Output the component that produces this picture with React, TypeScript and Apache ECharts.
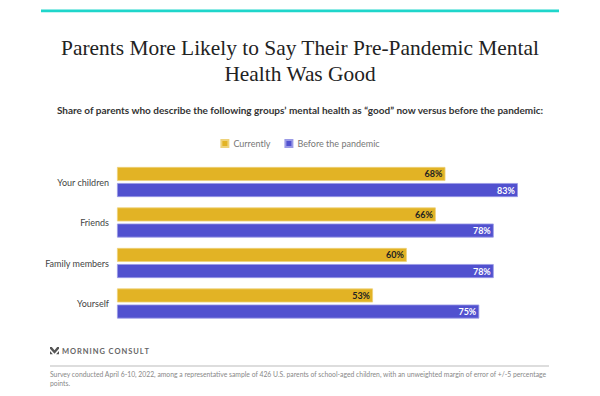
import React, { useEffect, useRef } from "react";
import * as echarts from "echarts";

const categories = ["Your children", "Friends", "Family members", "Yourself"];
const currently = [68, 66, 60, 53];
const beforePandemic = [83, 78, 78, 75];
const seriesNames = ["Currently", "Before the pandemic"];

const titleText = "Parents More Likely to Say Their Pre-Pandemic Mental\nHealth Was Good";
const subtitleText =
  "Share of parents who describe the following groups\u2019 mental health as \u201cgood\u201d now versus before the pandemic:";
const footnote1 =
  "Survey conducted April 6-10, 2022, among a representative sample of 426 U.S. parents of school-aged children, with an unweighted margin of error of +/-5 percentage";
const footnote2 = "points.";
const brand = "MORNING CONSULT";

echarts.graphic.registerShape(
  "mclogo",
  echarts.graphic.extendPath(
    "M0 0 L2 0 L5 3.5 L8 0 L10 0 L10 2 L5 7.5 L0 2 Z M0 4.5 L3.2 8 L0 8 Z M10 4.5 L6.8 8 L10 8 Z",
    {}
  )
);

export default function App() {
  const ref = useRef<HTMLDivElement>(null);
  useEffect(() => {
    if (!ref.current) return;
    const chart = echarts.init(ref.current, undefined, { renderer: "svg" });
    const sans = "Lato, 'Liberation Sans', Arial, sans-serif";
    const spacedBrand = brand.split("").join("\u2009");
    chart.setOption({
      animation: false,
      backgroundColor: "#ffffff",
      title: [
        {
          text: subtitleText,
          left: "center",
          top: 100,
          textStyle: {
            fontFamily: sans,
            fontSize: 10,
            fontWeight: "bold",
            color: "#333333",
          },
        },
      ],
      legend: {
        data: seriesNames,
        top: 134,
        left: "center",
        icon: "rect",
        itemWidth: 7,
        itemHeight: 7,
        itemGap: 14,
        textStyle: { fontFamily: sans, fontSize: 9, color: "#777777" },
      },
      grid: { left: 117, right: 0, top: 161.75, height: 162, containLabel: false },
      xAxis: {
        type: "value",
        min: 0,
        max: 100,
        show: false,
      },
      yAxis: {
        type: "category",
        data: categories,
        inverse: true,
        axisLine: { show: false },
        axisTick: { show: false },
        axisLabel: {
          margin: 8,
          fontFamily: sans,
          fontSize: 9,
          color: "#444444",
        },
      },
      series: [
        {
          name: seriesNames[0],
          type: "bar",
          data: currently,
          barWidth: 14,
          barGap: "15%",
          itemStyle: { color: "#E2B325", borderColor: "#EED27A", borderWidth: 0.8 },
          label: {
            show: true,
            position: "insideRight",
            distance: 3,
            formatter: "{c}%",
            fontFamily: sans,
            fontSize: 9,
            fontWeight: "bold",
            color: "#222222",
          },
        },
        {
          name: seriesNames[1],
          type: "bar",
          data: beforePandemic,
          barWidth: 14,
          itemStyle: { color: "#5151CF", borderColor: "#9A9AE6", borderWidth: 0.8 },
          label: {
            show: true,
            position: "insideRight",
            distance: 3,
            formatter: "{c}%",
            fontFamily: sans,
            fontSize: 9,
            fontWeight: "bold",
            color: "#ffffff",
          },
        },
      ],
      graphic: [
        {
          type: "rect",
          shape: { x: 41, y: 9.5, width: 518, height: 2.8 },
          style: { fill: "#1FD6CB" },
        },
        {
          type: "text",
          x: 300,
          y: 35,
          style: {
            text: titleText,
            fontFamily: "'Liberation Serif', 'DejaVu Serif', serif",
            fontSize: 21.4,
            lineHeight: 26,
            fill: "#222222",
            align: "center",
            verticalAlign: "top",
          },
        },
        {
          type: "mclogo",
          x: 50,
          y: 347,
          scaleX: 0.9,
          scaleY: 0.9,
          style: { fill: "#555555" },
        },
        {
          type: "text",
          x: 62,
          y: 351,
          style: {
            text: spacedBrand,
            fontFamily: sans,
            fontSize: 7.5,
            fontWeight: "bold",
            fill: "#666666",
            verticalAlign: "middle",
          },
        },
        {
          type: "line",
          shape: { x1: 50, y1: 366, x2: 549, y2: 366 },
          style: { stroke: "#BBBBBB", lineWidth: 1 },
        },
        {
          type: "text",
          x: 50,
          y: 374,
          style: {
            text: footnote1,
            fontFamily: sans,
            fontSize: 6.8,
            fill: "#888888",
            verticalAlign: "middle",
          },
        },
        {
          type: "text",
          x: 50,
          y: 383,
          style: {
            text: footnote2,
            fontFamily: sans,
            fontSize: 6.8,
            fill: "#888888",
            verticalAlign: "middle",
          },
        },
      ],
    });
    return () => chart.dispose();
  }, []);
  return <div ref={ref} style={{ width: 600, height: 396, margin: -8 }} />;
}
